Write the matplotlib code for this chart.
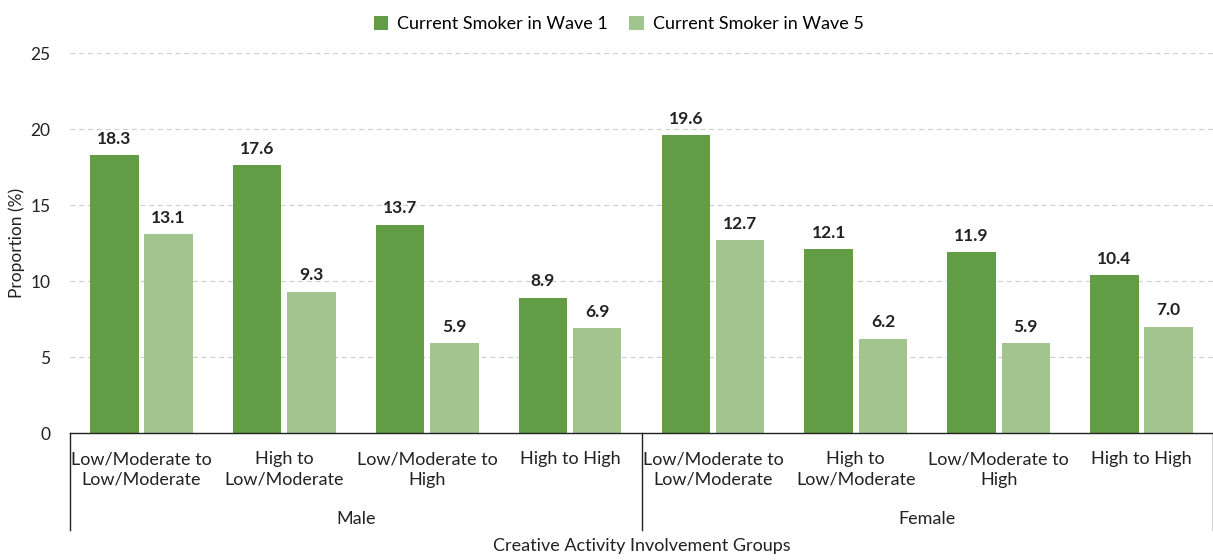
import matplotlib.pyplot as plt
import numpy as np

# chart input
groups = ["Male", "Female"]
categories = ["Low/Moderate to\nLow/Moderate", "High to\nLow/Moderate",
              "Low/Moderate to\nHigh", "High to High"] * 2
wave1 = [18.3, 17.6, 13.7, 8.9, 19.6, 12.1, 11.9, 10.4]
wave5 = [13.1, 9.3, 5.9, 6.9, 12.7, 6.2, 5.9, 7.0]
series_names = ["Current Smoker in Wave 1", "Current Smoker in Wave 5"]
dark_green = "#629C44"
light_green = "#A2C590"

plt.rcParams['font.family'] = ['Lato', 'DejaVu Sans']

fig = plt.figure(figsize=(12.13, 5.6), dpi=100)
ax = fig.add_axes([70 / 1213, 127 / 560, 1143 / 1213, 380 / 560])

x = np.arange(len(categories))
width = 0.34
b1 = ax.bar(x - 0.19, wave1, width, color=dark_green, label=series_names[0])
b2 = ax.bar(x + 0.19, wave5, width, color=light_green, label=series_names[1])

# value labels above bars
for bars in (b1, b2):
    for rect in bars:
        ax.annotate(f"{rect.get_height():.1f}",
                    (rect.get_x() + rect.get_width() / 2, rect.get_height()),
                    xytext=(0, 6), textcoords="offset points",
                    ha="center", va="bottom", fontsize=12.5, fontweight="bold",
                    color="#222222")

# axes settings
ax.set_xlim(-0.5, len(categories) - 0.5)
ax.set_ylim(0, 25)
ax.set_yticks(range(0, 26, 5))
ax.tick_params(axis='y', length=0, labelsize=12.5, pad=14, colors="#222222")
ax.set_xticks(x)
ax.set_xticklabels(categories, fontsize=13, color="#222222", linespacing=1.35)
ax.tick_params(axis='x', length=0, pad=13)
for s in ("left", "right", "top"):
    ax.spines[s].set_visible(False)
ax.spines["bottom"].set_color("#222222")
ax.spines["bottom"].set_linewidth(1.0)

for yv in range(5, 26, 5):
    ax.axhline(yv, color="#d0d0d0", linestyle=(0, (4, 3)), linewidth=0.9, zorder=0)

# group separators and group labels
for xs in (-0.5, 3.5, 7.5):
    ax.plot([xs, xs], [0, -0.255], transform=ax.get_xaxis_transform(),
            color="#222222", linewidth=1.0, clip_on=False)
for i, g in enumerate(groups):
    ax.text(1.5 + 4 * i, -0.225, g, transform=ax.get_xaxis_transform(),
            ha="center", va="center", fontsize=13, color="#222222")

ax.text(0.5, -0.298, "Creative Activity Involvement Groups",
        transform=ax.transAxes, ha="center", va="center", fontsize=13,
        color="#222222")
ax.set_ylabel("Proportion (%)", fontsize=12.5, color="#222222", labelpad=4)

fig.legend(loc="upper center", bbox_to_anchor=(0.51, 1.0), ncol=2,
           frameon=False, fontsize=13, handlelength=0.8, handleheight=0.8,
           columnspacing=1.2, handletextpad=0.5)

fig.savefig("out.png", dpi=100)
